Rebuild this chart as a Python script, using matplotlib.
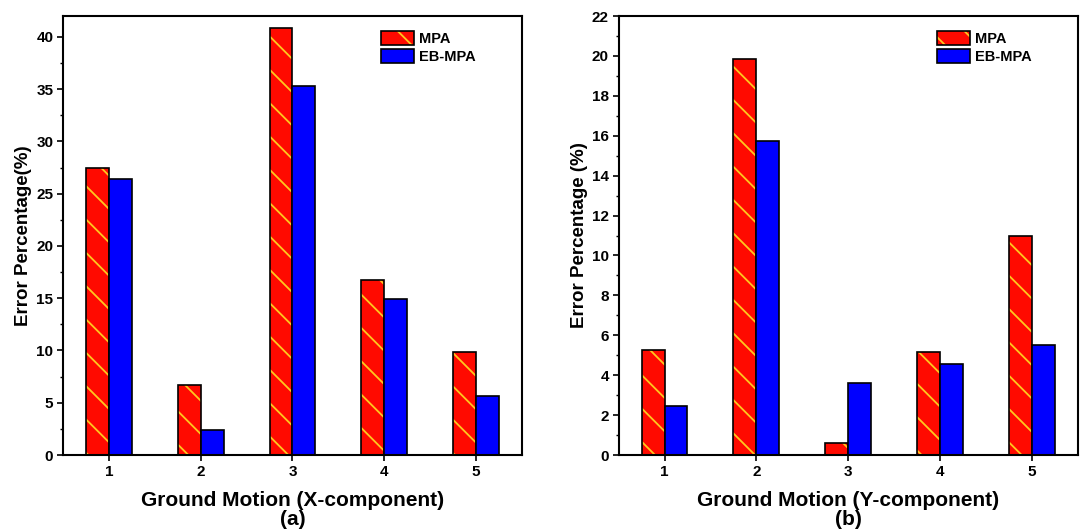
import matplotlib
matplotlib.use('Agg')
import matplotlib.pyplot as plt
from matplotlib.patches import Patch
from matplotlib.ticker import MultipleLocator
import numpy as np

plt.rcParams['font.family'] = ['Liberation Sans', 'DejaVu Sans']
plt.rcParams['font.weight'] = 'bold'
plt.rcParams['hatch.linewidth'] = 1.3

motions = [1, 2, 3, 4, 5]
mpa_x = [27.5, 6.7, 40.9, 16.7, 9.9]
ebmpa_x = [26.4, 2.4, 35.3, 14.9, 5.6]
mpa_y = [5.25, 19.85, 0.6, 5.15, 11.0]
ebmpa_y = [2.45, 15.75, 3.6, 4.55, 5.5]

red = '#ff0a00'
blue = '#0000ff'
hatch_col = '#ffc81e'
w = 0.25


def draw_panel(ax, mpa, ebmpa, ymax, major, minor, xlabel, ylabel, tag):
    x = np.array(motions)
    # red bars with yellow hatch, then black outlines on top
    ax.bar(x - w / 2, mpa, w, color=red, edgecolor=hatch_col, hatch='\\', linewidth=0)
    ax.bar(x - w / 2, mpa, w, fill=False, edgecolor='black', linewidth=1.2)
    ax.bar(x + w / 2, ebmpa, w, color=blue, edgecolor='black', linewidth=1.2)

    ax.set_xlim(0.5, 5.5)
    ax.set_ylim(0, ymax)
    ax.set_xticks(motions)
    ax.yaxis.set_major_locator(MultipleLocator(major))
    ax.yaxis.set_minor_locator(MultipleLocator(minor))
    ax.tick_params(axis='both', which='major', direction='out', length=4, width=1.2,
                   labelsize=11, pad=3)
    ax.tick_params(axis='y', which='minor', direction='out', length=2, width=1)
    for lbl in ax.get_xticklabels() + ax.get_yticklabels():
        lbl.set_fontweight('bold')
    for s in ax.spines.values():
        s.set_linewidth(1.5)

    ax.set_xlabel(xlabel + '\n' + tag, fontsize=15, fontweight='bold', labelpad=9,
                  linespacing=1.0)
    ax.set_ylabel(ylabel, fontsize=13.5, fontweight='bold', labelpad=3)

    h1 = (Patch(facecolor=red, edgecolor=hatch_col, hatch='\\', linewidth=0),
          Patch(fill=False, edgecolor='black', linewidth=1.2))
    h2 = Patch(facecolor=blue, edgecolor='black', linewidth=1.2)
    ax.legend([h1, h2], ['MPA', 'EB-MPA'], loc='upper left', bbox_to_anchor=(0.67, 0.988),
              frameon=False, prop={'size': 10.5, 'weight': 'bold'}, handlelength=2.3,
              handleheight=1.1, handletextpad=0.35, labelspacing=0.2, borderpad=0.2)


fig = plt.figure(figsize=(10.82, 5.30), dpi=100)
ax1 = fig.add_axes([0.0582, 0.1415, 0.4242, 0.8283])
ax2 = fig.add_axes([0.5717, 0.1415, 0.4246, 0.8283])

draw_panel(ax1, mpa_x, ebmpa_x, 42, 5, 2.5, 'Ground Motion (X-component)',
           'Error Percentage(%)', '(a)')
draw_panel(ax2, mpa_y, ebmpa_y, 22, 2, 1, 'Ground Motion (Y-component)',
           'Error Percentage (%)', '(b)')

fig.savefig('out.png', dpi=100)
